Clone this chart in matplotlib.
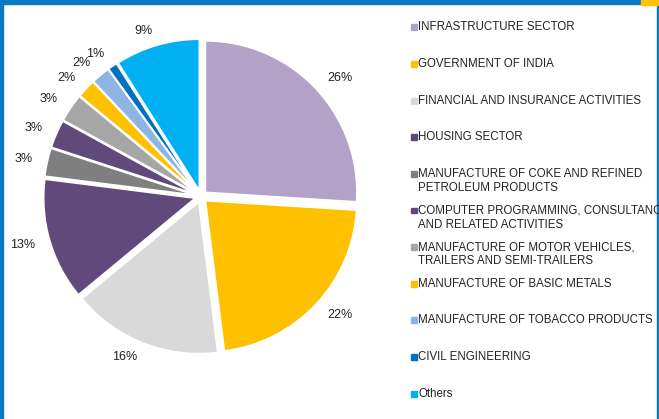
import matplotlib.pyplot as plt
from matplotlib.patches import Rectangle

plt.rcParams['font.family'] = ['Liberation Sans', 'DejaVu Sans']

# sector shares (%), clockwise from 12 o'clock
sectors = [
    "INFRASTRUCTURE SECTOR",
    "GOVERNMENT OF INDIA",
    "FINANCIAL AND INSURANCE ACTIVITIES",
    "HOUSING SECTOR",
    "MANUFACTURE OF COKE AND REFINED\nPETROLEUM PRODUCTS",
    "COMPUTER PROGRAMMING, CONSULTANCY\nAND RELATED ACTIVITIES",
    "MANUFACTURE OF MOTOR VEHICLES,\nTRAILERS AND SEMI-TRAILERS",
    "MANUFACTURE OF BASIC METALS",
    "MANUFACTURE OF TOBACCO PRODUCTS",
    "CIVIL ENGINEERING",
    "Others",
]
shares = [26, 22, 16, 13, 3, 3, 3, 2, 2, 1, 9]
colors = ["#B3A2C7", "#FFC000", "#D9D9D9", "#604A7B", "#7F7F7F", "#604A7B",
          "#A6A6A6", "#FFC000", "#8EB4E3", "#0070C0", "#00B0F0"]

W, H = 659, 419
fig = plt.figure(figsize=(W / 100, H / 100), dpi=100)
fig.patch.set_facecolor("white")

# frame: blue top bar + side borders, orange corner block
border = "#0A78C2"
fig.patches.append(Rectangle((0, 1 - 4 / H), 1, 4 / H, transform=fig.transFigure,
                             color=border, zorder=0))
fig.patches.append(Rectangle((0, 0), 2.5 / W, 1, transform=fig.transFigure,
                             color=border, zorder=0))
fig.patches.append(Rectangle((1 - 2.5 / W, 0), 2.5 / W, 1, transform=fig.transFigure,
                             color=border, zorder=0))
fig.patches.append(Rectangle((1 - 18 / W, 1 - 5 / H), 18 / W, 5 / H,
                             transform=fig.transFigure, color="#FFC000", zorder=1))

# pie
cx, cy, r = 201, 196.5, 151.5
ax = fig.add_axes([(cx - 1.3 * r) / W, (H - cy - 1.3 * r) / H, 2.6 * r / W, 2.6 * r / H])
pct_labels = ["%d%%" % s for s in shares]
ax.pie(shares, colors=colors, labels=pct_labels, startangle=90, counterclock=False,
       explode=[0.04] * len(shares), labeldistance=1.1,
       wedgeprops=dict(edgecolor="white", linewidth=1.2),
       textprops=dict(fontsize=9, color="#222222"))
# pie() resets the limits, so fix them afterwards
ax.set_xlim(-1.3, 1.3)
ax.set_ylim(-1.3, 1.3)
ax.set_aspect("equal")
ax.axis("off")

# legend (Excel style, fixed slot height)
lx, ly0, step = 411, 27, 36.6
for i, (name, col) in enumerate(zip(sectors, colors)):
    y = ly0 + i * step
    fig.patches.append(Rectangle(((lx - 0.5) / W, 1 - (y + 3.5) / H), 6 / W, 6 / H,
                                 transform=fig.transFigure, color=col))
    fig.text((lx + 7.5) / W, 1 - (y - 5.5) / H, name, fontsize=8.3, color="#222222",
             va="top", ha="left", linespacing=1.25)

fig.savefig("out.png", dpi=100)
